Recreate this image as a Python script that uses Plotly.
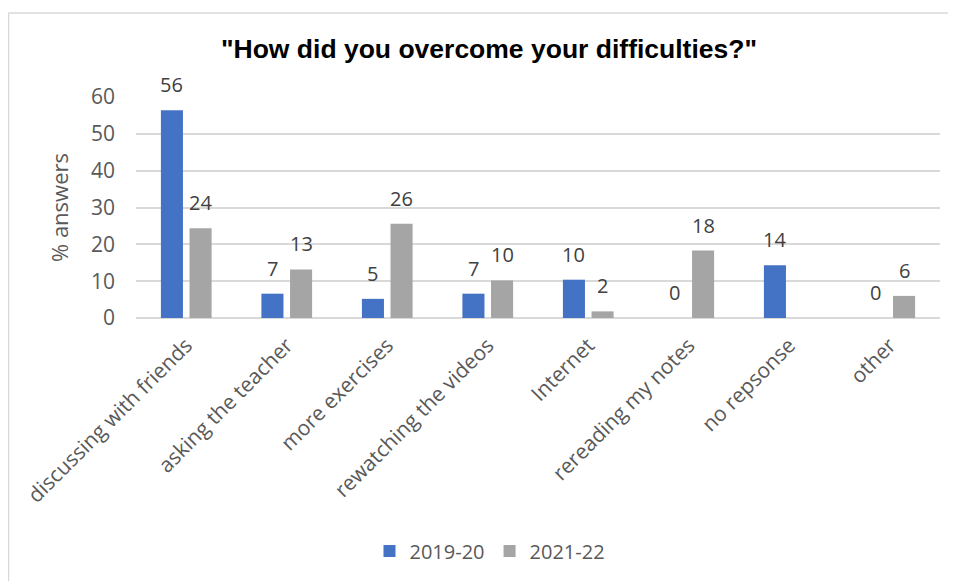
import plotly.graph_objects as go

categories = ["discussing with friends", "asking the teacher", "more exercises",
              "rewatching the videos", "Internet", "rereading my notes",
              "no repsonse", "other"]
series_names = ["2019-20", "2021-22"]
values_2019_20 = [56.4, 6.6, 5.2, 6.6, 10.4, 0, 14.3, 0]
values_2021_22 = [24.4, 13.2, 25.6, 10.2, 1.8, 18.3, None, 6.0]
y_ticks = [0, 10, 20, 30, 40, 50, 60]

# page body has an 8px margin; work in reference pixel coords and subtract it
OFF = 8
W, H = 956 - OFF, 581 - OFF
L, R, T, B = 136 - OFF, 16, 97 - OFF, 262
PW, PH = W - L - R, H - T - B

def px_x(p):
    return (p - OFF - L) / PW

def px_y(p):
    return (H - B - (p - OFF)) / PH

colors = ["#4472C4", "#A5A5A5"]
FONT = "Open Sans"

fig = go.Figure()
for name, vals, col in zip(series_names, [values_2019_20, values_2021_22], colors):
    fig.add_trace(go.Bar(x=categories, y=vals, name=name,
                         marker=dict(color=col, line=dict(width=0))))

annotations = []
for vals, shift in [(values_2019_20, -14.3), (values_2021_22, 14.3)]:
    for c, v in zip(categories, vals):
        if v is None:
            continue
        annotations.append(dict(x=c, y=v, xref="x", yref="y", text=f"{v:.0f}",
                                showarrow=False, xshift=shift, yshift=10,
                                yanchor="bottom",
                                font=dict(family=FONT, size=20, color="#404040")))

shapes = [
    dict(type="line", xref="paper", yref="paper", x0=px_x(8.5), x1=px_x(970),
         y0=px_y(12.7), y1=px_y(12.7), line=dict(color="#D9D9D9", width=1.5)),
    dict(type="line", xref="paper", yref="paper", x0=px_x(8.5), x1=px_x(8.5),
         y0=px_y(12.7), y1=px_y(600), line=dict(color="#D9D9D9", width=1.5)),
]

fig.update_layout(
    width=W, height=H,
    margin=dict(l=L, r=R, t=T, b=B, pad=0),
    paper_bgcolor="white", plot_bgcolor="white",
    barmode="group", bargap=0.43, bargroupgap=0.23,
    title=dict(text='<b>"How did you overcome your difficulties?"</b>',
               x=(489 - OFF) / W, xref="container", xanchor="center",
               y=1 - (49 - OFF) / H, yref="container", yanchor="middle",
               font=dict(family="Liberation Sans", size=26.5, color="black")),
    font=dict(family=FONT, size=20, color="#595959"),
    xaxis=dict(tickangle=-45, tickfont=dict(family=FONT, size=21, color="#595959"),
               showgrid=False, showline=False, ticks="", ticklabelstandoff=10,
               automargin=False),
    yaxis=dict(range=[0, 60], tickvals=y_ticks, showgrid=True, gridcolor="#D9D9D9",
               gridwidth=1.5, zeroline=True, zerolinecolor="#D9D9D9", zerolinewidth=1.5,
               showline=False, ticks="", ticklabelstandoff=20,
               tickfont=dict(family=FONT, size=21, color="#595959"),
               title=dict(text="% answers", standoff=16,
                          font=dict(family=FONT, size=22, color="#595959")),
               automargin=False),
    showlegend=True,
    legend=dict(orientation="h", x=px_x(490), xanchor="center", y=px_y(551),
                yanchor="middle", font=dict(family=FONT, size=20, color="#595959"),
                bgcolor="rgba(0,0,0,0)", itemclick=False),
    annotations=annotations,
    shapes=shapes,
)

fig.write_html("out.html")
